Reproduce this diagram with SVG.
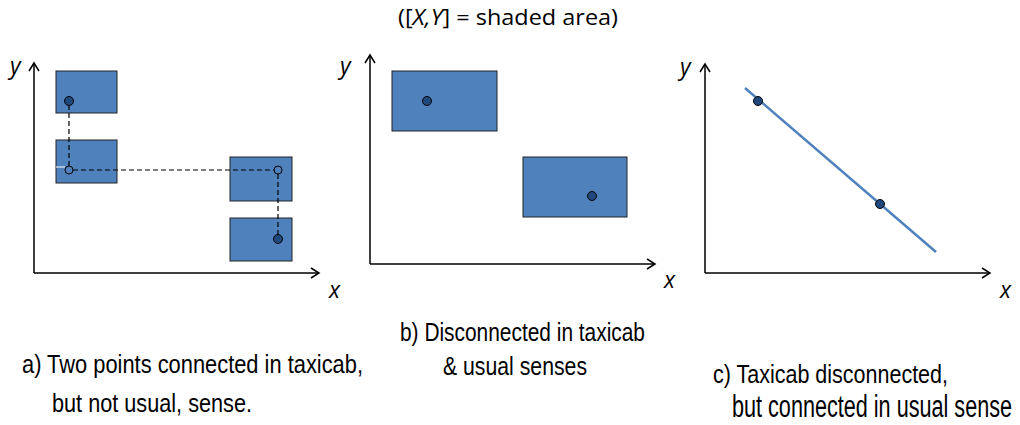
<svg xmlns="http://www.w3.org/2000/svg" width="1020" height="425" viewBox="0 0 1020 425">
<style>
.axis{fill:none;stroke:#000;stroke-width:1.5}
.head{fill:none;stroke:#000;stroke-width:1.5}
.box{fill:#4F81BD;stroke:#222;stroke-width:1}
.dot{fill:#1F497D;stroke:#000;stroke-width:1}
.ring{fill:none;stroke:#000;stroke-width:1}
.dash{fill:none;stroke:#000;stroke-width:1.2;stroke-dasharray:5 3}
.lbl{font-family:"Open Sans","DejaVu Sans",sans-serif;font-style:italic;font-size:23px;fill:#000}
.cap{font-family:"Liberation Sans",Arial,sans-serif;font-size:26px;fill:#000}
.title{font-family:"Open Sans","Noto Sans",sans-serif;font-size:21px;fill:#000}
</style>
<rect width="1020" height="425" fill="#fff"/>
<text class="title" x="398" y="25" textLength="220" lengthAdjust="spacingAndGlyphs">([<tspan font-style="italic">X,Y</tspan>] = shaded area)</text>

<g id="panel-a">
  <g id="a-axes">
    <path class="axis" d="M34,273 V63 M34,273 H319"/>
    <path class="head" d="M29,71 L34,63 L39,71 M311,268 L319,273 L311,278"/>
    <text class="lbl" x="10" y="74">y</text>
    <text class="lbl" x="329" y="298">x</text>
  </g>
  <g id="a-box1"><rect class="box" x="56" y="71" width="61" height="42"/></g>
  <g id="a-box2"><rect class="box" x="56" y="140" width="61" height="43"/></g>
  <g id="a-box3"><rect class="box" x="230" y="157" width="62" height="44"/></g>
  <g id="a-box4"><rect class="box" x="230" y="218" width="62" height="43"/></g>
  <g id="a-connectors">
    <line x1="56" y1="167" x2="65" y2="167" stroke="#fff" stroke-width="1"/>
    <path class="dash" d="M69,105 V166 M73,170 H274 M278,174 V235"/>
  </g>
  <g id="a-points">
    <circle class="dot" cx="69" cy="101" r="4.5"/>
    <circle class="ring" cx="69" cy="170" r="4"/>
    <circle class="ring" cx="278" cy="170" r="4"/>
    <circle class="dot" cx="278" cy="239" r="4.5"/>
  </g>
  <text class="cap" x="22" y="373" textLength="341" lengthAdjust="spacingAndGlyphs">a) Two points connected in taxicab,</text>
  <text class="cap" x="52" y="412" textLength="200" lengthAdjust="spacingAndGlyphs">but not usual, sense.</text>
</g>

<g id="panel-b">
  <g id="b-axes">
    <path class="axis" d="M370,264 V55 M370,264 H655"/>
    <path class="head" d="M365,63 L370,55 L375,63 M647,259 L655,264 L647,269"/>
    <text class="lbl" x="340" y="74">y</text>
    <text class="lbl" x="664" y="288">x</text>
  </g>
  <g id="b-box1"><rect class="box" x="392" y="71" width="105" height="60"/></g>
  <g id="b-box2"><rect class="box" x="523" y="157" width="104" height="60"/></g>
  <g id="b-points">
    <circle class="dot" cx="427" cy="101" r="4.5"/>
    <circle class="dot" cx="592" cy="196" r="4.5"/>
  </g>
  <text class="cap" x="400" y="341" textLength="245" lengthAdjust="spacingAndGlyphs">b) Disconnected in taxicab</text>
  <text class="cap" x="443" y="375" textLength="144" lengthAdjust="spacingAndGlyphs">&amp; usual senses</text>
</g>

<g id="panel-c">
  <g id="c-axes">
    <path class="axis" d="M705,273 V64 M705,273 H990"/>
    <path class="head" d="M700,72 L705,64 L710,72 M982,268 L990,273 L982,278"/>
    <text class="lbl" x="680" y="75">y</text>
    <text class="lbl" x="1000" y="298">x</text>
  </g>
  <g id="c-line"><line x1="745" y1="88" x2="936" y2="252" stroke="#4F81BD" stroke-width="2.5"/></g>
  <g id="c-points">
    <circle class="dot" cx="758" cy="101" r="4.5"/>
    <circle class="dot" cx="880" cy="204" r="4.5"/>
  </g>
  <text class="cap" x="713" y="383" textLength="235" lengthAdjust="spacingAndGlyphs">c) Taxicab disconnected,</text>
  <text class="cap" transform="translate(732,417) scale(1,1.2)" x="0" y="0" font-size="21.5" textLength="280" lengthAdjust="spacingAndGlyphs">but connected in usual sense</text>
</g>
</svg>
